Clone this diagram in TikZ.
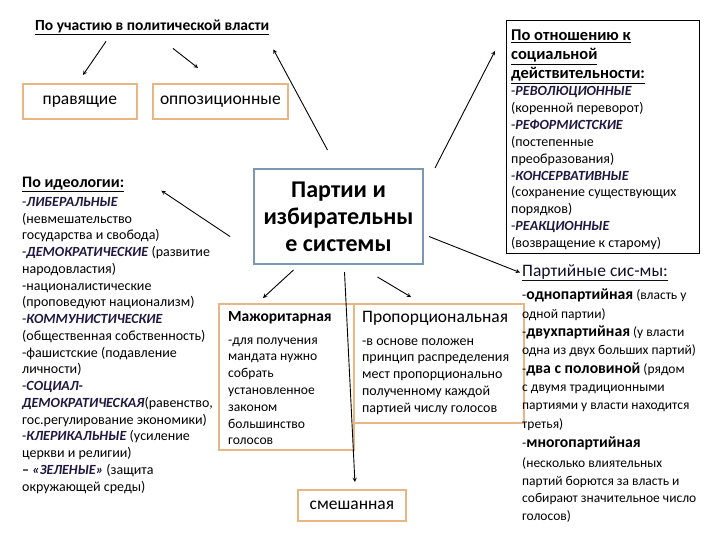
\documentclass[tikz,border=0pt]{standalone}
\usepackage{fontspec}
\setmainfont{Carlito}
\usetikzlibrary{positioning}
\definecolor{boxorange}{RGB}{232,182,130}
\definecolor{boxblue}{RGB}{122,152,178}
\definecolor{wordart}{RGB}{32,24,64}
\newcommand{\wa}[1]{\textcolor{wordart}{\textbf{\textit{#1}}}}
\tikzset{%
    vote box/.style={
      rectangle,
      draw=boxorange,
      line width=1.8pt,
      fill=white,
      anchor=north west,
      inner sep=0pt,
      align=center,
      font=\fontsize{17.5}{20}\selectfont
    },
    party box/.style={
      rectangle,
      draw=boxblue,
      line width=2pt,
      fill=white,
      anchor=north west,
      align=center,
      minimum width=169pt,
      minimum height=95pt,
      font=\bfseries\fontsize{24}{27}\selectfont
    },
    head text/.style={
      anchor=north west,
      inner sep=0pt,
      align=left,
      font=\bfseries\fontsize{15.5}{19}\selectfont
    },
    body text/.style={
      anchor=north west,
      inner sep=0pt,
      align=left,
      font=\fontsize{14}{16.76}\selectfont
    },
    link/.style={
      ->,
      line width=0.9pt
    }
  }

\begin{document}
\begin{tikzpicture}[x=1pt, y=-1pt, >=stealth]
      \useasboundingbox (0,0) rectangle (720,540);

      % по участию во власти
      \node [head text] (part) at (35,20) {\underline{По участию в политической власти}};
      \node [vote box, minimum width=114pt, minimum height=35pt] (rul) at (22,83) {правящие};
      \node [vote box, minimum width=135pt, minimum height=35pt] (opp) at (152,83) {оппозиционные};

      % центр
      \node [party box] (party) at (253,168) {Партии и\\избирательны\\е системы};

      % по отношению к действительности
      \node [rectangle, draw, line width=0.6pt, anchor=north west,
             minimum width=193pt, minimum height=233pt] (real) at (506,20) {};
      \node [body text, font=\fontsize{14}{16.9}\selectfont, below right=10pt and 5pt of real.north west] (reallist)
        {{\bfseries\fontsize{16.5}{19}\selectfont\underline{По отношению к}}\\[2pt]
         {\bfseries\fontsize{16.5}{19}\selectfont\underline{социальной}}\\[2pt]
         {\bfseries\fontsize{16.5}{19}\selectfont\underline{действительности:}}\\
         -\wa{РЕВОЛЮЦИОННЫЕ}\\
         (коренной переворот)\\
         -\wa{РЕФОРМИСТСКИЕ}\\
         (постепенные\\
         преобразования)\\
         -\wa{КОНСЕРВАТИВНЫЕ}\\
         (сохранение существующих\\
         порядков)\\
         -\wa{РЕАКЦИОННЫЕ}\\
         (возвращение к старому)};

      % по идеологии
      \node [head text, font=\bfseries\fontsize{16}{19}\selectfont] (ideo) at (22,177) {\underline{По идеологии:}};
      \node [body text] (ideolist) at (22,197)
        {-\wa{ЛИБЕРАЛЬНЫЕ}\\
         (невмешательство\\
         государства и свобода)\\
         -\wa{ДЕМОКРАТИЧЕСКИЕ} (развитие\\
         народовластия)\\
         -националистические\\
         (проповедуют национализм)\\
         -\wa{КОММУНИСТИЧЕСКИЕ}\\
         (общественная собственность)\\
         -фашистские (подавление\\
         личности)\\
         -\wa{СОЦИАЛ-}\\
         \wa{ДЕМОКРАТИЧЕСКАЯ}(равенство,\\
         гос.регулирование экономики)\\
         -\wa{КЛЕРИКАЛЬНЫЕ} (усиление\\
         церкви и религии)\\
         \textbf{–} \wa{«ЗЕЛЕНЫЕ»} (защита\\
         окружающей среды)};

      % избирательные системы
      \node [vote box, minimum width=135pt, minimum height=146pt] (maj) at (218,303) {};
      \node [body text, font=\fontsize{13.6}{16.8}\selectfont, below right=8pt and 10pt of maj.north west] (majtext)
        {{\bfseries\fontsize{15.5}{17}\selectfont Мажоритарная}\\[6pt]
         -для получения\\
         мандата нужно\\
         собрать\\
         установленное\\
         законом\\
         большинство\\
         голосов};
      \node [vote box, minimum width=170pt, minimum height=119pt] (prop) at (353,303) {};
      \node [body text, font=\fontsize{14}{16.75}\selectfont, below right=8pt and 9pt of prop.north west] (proptext)
        {{\fontsize{17.5}{19}\selectfont Пропорциональная}\\[6pt]
         -в основе положен\\
         принцип распределения\\
         мест пропорционально\\
         полученному каждой\\
         партией числу голосов};
      \node [vote box, minimum width=108pt, minimum height=31pt] (mixed) at (297,489) {смешанная};

      % партийные системы
      \node [anchor=north west, inner sep=0pt, text=wordart!60!black,
             font=\fontsize{17.5}{20}\selectfont] (psys) at (522,264) {\underline{Партийные сис-мы:}};
      \node [body text, font=\fontsize{13.5}{18.3}\selectfont] (psyslist) at (522,289)
        {-{\bfseries\fontsize{15.7}{17}\selectfont однопартийная} (власть у\\
         одной партии)\\
         -{\bfseries\fontsize{15.7}{17}\selectfont двухпартийная} (у власти\\
         одна из двух больших партий)\\
         -{\bfseries\fontsize{15.7}{17}\selectfont два с половиной} (рядом\\
         с двумя традиционными\\
         партиями у власти находится\\
         третья)};
      \node [body text, font=\fontsize{13.5}{17.5}\selectfont] (multi) at (522,437)
        {-{\bfseries\fontsize{15.7}{17}\selectfont многопартийная}\\[2.5pt]
         (несколько влиятельных\\
         партий борются за власть и\\
         собирают значительное число\\
         голосов)};

      % стрелки
      \draw [link] ([shift={(71,6)}]part.south west) -- ([shift={(61,-8)}]rul.north west);
      \draw [link] ([shift={(138,13)}]part.south west) -- ([shift={(46,-15)}]opp.north west);
      \draw [link] ([shift={(-11,-18)}]party.north) -- ([shift={(4,14)}]part.south east);
      \draw [link] ([shift={(11,0)}]party.north east) -- ([shift={(-11,31)}]real.north west);
      \draw [link] ([shift={(-23,20)}]party.west) -- ([shift={(37,6)}]ideo.east);
      \draw [link] ([shift={(5,20)}]party.east) -- ([shift={(-2,0)}]psys.west);
      \draw [link] ([shift={(-45,5)}]party.south) -- ([shift={(45,-5)}]maj.north west);
      \draw [link] ([shift={(6,7)}]party.south) -- ([shift={(3,-7)}]mixed.north);
      \draw [link] ([shift={(39,12)}]party.south) -- ([shift={(58,-6)}]prop.north west);
    \end{tikzpicture}
\end{document}
